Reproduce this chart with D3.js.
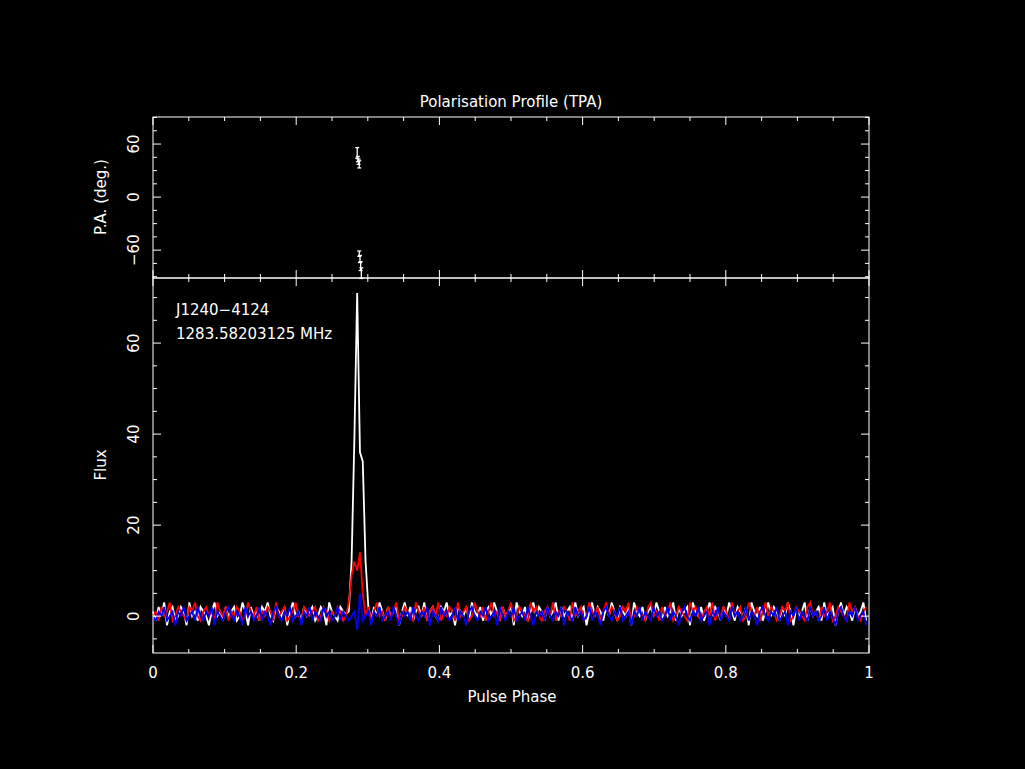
<!DOCTYPE html>
<html><head><meta charset="utf-8">
<script src="https://cdn.jsdelivr.net/npm/d3@7"></script>
<style>body{margin:0;background:#000}svg{display:block}text{font-family:"DejaVu Sans",sans-serif;fill:#fff;font-size:15px}</style>
</head><body><div id="chart"></div>
<script>
// profile bins (256 across the phase 0..1)
const totalI = [
 1,-1,2,0,3,-2,1,2,-1,0,2,1,-2,3,0,1,-1,2,1,0,-2,1,3,0,1,-1,2,0,1,2,
 -1,0,3,1,-2,2,0,1,-1,2,1,3,0,-1,2,1,0,2,-2,1,3,0,1,-1,2,0,1,2,-1,0,
 2,1,-2,3,1,0,-1,2,1,0.5,1,12,39,71,36,34,12,2,-1,2,0,3,1,-1,2,0,1,2,-2,1,
 3,0,2,-1,1,2,0,3,-1,1,2,0,-1,2,1,3,0,1,-2,2,1,0,2,-1,3,1,0,2,-1,1,
 2,0,3,1,-1,2,0,1,2,-2,3,1,0,2,-1,1,3,0,2,1,-1,2,0,1,3,-1,2,0,1,2,
 -1,3,0,1,2,-2,1,3,0,2,1,-1,2,0,3,1,-1,2,1,0,2,-2,3,1,0,2,-1,1,2,0,
 3,1,-1,2,0,1,3,-1,2,0,1,2,-2,3,1,0,2,-1,1,3,0,2,1,-1,2,0,3,1,-1,2,
 1,0,2,-2,3,1,0,2,-1,1,3,0,2,1,-1,2,0,3,1,-2,2,0,1,3,-1,2,0,1,2,-1,
 3,0,1,2,-2,1,3,0,2,1,-1,2,0,1,3,-1
];
const linearL = [
 0,1,-1,2,0,1,3,-1,0,2,1,0,-1,2,1,3,0,-1,1,2,0,1,-1,3,1,0,2,-1,1,0,
 2,1,-1,0,3,1,0,2,-1,1,0,2,1,-1,3,0,1,2,-1,0,1,3,0,-1,2,1,0,1,2,-1,
 0,2,1,-1,1,0,2,1,-1,0,3,9,12,10,14,5,0,2,-1,1,3,0,1,-1,2,0,1,3,-1,0,
 2,1,0,-1,3,1,0,2,-1,1,2,0,3,-1,1,0,2,1,-1,3,0,1,2,-1,0,3,1,0,2,-1,
 1,3,0,1,-1,2,0,1,3,-1,0,2,1,0,-1,3,1,2,0,-1,1,2,0,3,-1,1,0,2,1,-1,
 3,0,1,2,-1,0,3,1,0,2,-1,1,3,0,2,1,-1,0,2,1,3,-1,0,2,1,0,-1,2,3,0,
 1,-1,2,0,1,3,-1,0,2,1,0,-1,3,1,2,0,-1,1,2,0,3,-1,1,0,2,1,-1,3,0,1,
 2,-1,0,3,1,0,2,-1,1,3,0,2,1,-1,0,2,1,3,-1,0,2,1,0,-1,2,3,0,1,-1,2,
 0,1,3,-1,0,2,1,0,-1,3,1,2,0,-1,1,2
];
const circularV = [
 0,-1,1,0,2,-1,0,1,-2,1,0,2,-1,0,1,-1,2,0,-1,1,0,2,-2,1,0,-1,1,2,0,-1,
 1,0,-2,2,0,1,-1,0,2,-1,1,0,-2,1,2,0,-1,1,0,2,-1,0,1,-2,1,0,2,-1,1,0,
 -1,2,0,1,-1,0,2,-1,1,0,-1,0,1,-3,5,-1,0,1,-2,1,0,2,-1,0,1,-1,2,0,-2,1,
 0,1,-1,2,0,-1,1,0,2,-2,1,0,-1,2,0,1,-1,0,2,-1,1,0,-2,1,2,0,-1,1,0,2,
 -1,0,1,-2,2,0,-1,1,0,2,-1,0,1,-1,2,0,-2,1,0,1,-1,2,0,-1,1,0,2,-2,1,0,
 -1,2,0,1,-1,0,2,-1,1,0,-2,1,2,0,-1,1,0,2,-1,0,1,-2,1,0,2,-1,1,0,-1,2,
 0,1,-1,0,2,-1,1,0,-2,1,2,0,-1,1,0,2,-1,0,1,-2,1,0,2,-1,1,0,-1,2,0,1,
 -1,0,2,-1,1,0,-2,1,2,0,-1,1,0,2,-1,0,1,-2,1,0,2,-1,1,0,-1,2,0,1,-1,0,
 2,-1,1,0,-2,1,2,0,-1,1,0,2,-1,0,1,-2
];
// position angle points
const paPhase = [0.2852, 0.2861, 0.2871, 0.2881, 0.2881, 0.2891, 0.2900, 0.2910];
const paDeg   = [50, 43, 40, 37, -64, -70, -78, -86];
const paErr   = [6, 3, 3, 4, 3, 4, 5, 6];
const phaseTicks = [0, 0.2, 0.4, 0.6, 0.8, 1];
const fluxTicks = [0, 20, 40, 60];
const paTicks = [-60, 0, 60];

const W = 1025, H = 769;
const left = 153, right = 869, paTop = 117, split = 278, bottom = 653;
const svg = d3.select('#chart').append('svg').attr('width', W).attr('height', H)
    .style('background', '#000');

const x = d3.scaleLinear().domain([0, 1]).range([left, right]);
const yF = d3.scaleLinear().domain([-8.1, 74.3]).range([bottom, split]);
const yP = d3.scaleLinear().domain([-91.5, 90.6]).range([split, paTop]);

const lineFor = arr => d3.line()
    .x((d, i) => x(i / arr.length))
    .y(d => yF(d))(arr);
[[totalI, '#fff'], [linearL, '#f00'], [circularV, '#00f']].forEach(([arr, c]) => {
    svg.append('path').attr('d', lineFor(arr)).attr('fill', 'none')
        .attr('stroke', c).attr('stroke-width', 1.8);
});

// PA error bars
const pa = svg.append('g').attr('stroke', '#fff').attr('stroke-width', 1.3);
paPhase.forEach((p, i) => {
    const px = x(p);
    pa.append('line').attr('x1', px).attr('x2', px).attr('y1', yP(paDeg[i] - paErr[i])).attr('y2', yP(paDeg[i] + paErr[i]));
    [-1, 1].forEach(s => pa.append('line').attr('x1', px - 2).attr('x2', px + 2)
        .attr('y1', yP(paDeg[i] + s * paErr[i])).attr('y2', yP(paDeg[i] + s * paErr[i])));
});

// frames
const frame = svg.append('g').attr('stroke', '#fff').attr('fill', 'none').attr('stroke-width', 1);
frame.append('rect').attr('x', left).attr('y', paTop).attr('width', right - left).attr('height', split - paTop);
frame.append('rect').attr('x', left).attr('y', split).attr('width', right - left).attr('height', bottom - split);

// inward ticks
function xTicks(yEdge, dir) {
    d3.range(0, 1.0001, 0.05).forEach(t => {
        const major = Math.abs(t * 5 - Math.round(t * 5)) < 1e-6;
        const len = major ? 8 : 4;
        frame.append('line').attr('x1', x(t)).attr('x2', x(t)).attr('y1', yEdge).attr('y2', yEdge + dir * len);
    });
}
xTicks(paTop, 1); xTicks(split, -1); xTicks(split, 1); xTicks(bottom, -1);
function yTicks(scale, lo, hi, step, majorStep) {
    d3.range(lo, hi + 0.001, step).forEach(v => {
        const len = (Math.abs(v % majorStep) < 1e-6) ? 8 : 4;
        frame.append('line').attr('x1', left).attr('x2', left + len).attr('y1', scale(v)).attr('y2', scale(v));
        frame.append('line').attr('x1', right).attr('x2', right - len).attr('y1', scale(v)).attr('y2', scale(v));
    });
}
yTicks(yF, -5, 70, 5, 20);
yTicks(yP, -90, 90, 15, 60);

// labels
svg.selectAll('.xl').data(phaseTicks).enter().append('text')
    .attr('x', d => x(d)).attr('y', 678).attr('text-anchor', 'middle').text(d => d3.format('')(d));
svg.selectAll('.fl').data(fluxTicks).enter().append('text')
    .attr('transform', d => `translate(139,${yF(d)}) rotate(-90)`).attr('text-anchor', 'middle').text(d => d);
svg.selectAll('.pl').data(paTicks).enter().append('text')
    .attr('transform', d => `translate(139,${yP(d)}) rotate(-90)`).attr('text-anchor', 'middle').text(d => d < 0 ? '\u2212' + (-d) : d);
svg.append('text').attr('x', 511).attr('y', 107).attr('text-anchor', 'middle').text('Polarisation Profile (TPA)');
svg.append('text').attr('x', 512).attr('y', 702).attr('text-anchor', 'middle').text('Pulse Phase');
svg.append('text').attr('transform', 'translate(106,465) rotate(-90)').attr('text-anchor', 'middle').text('Flux');
svg.append('text').attr('transform', 'translate(106,197) rotate(-90)').attr('text-anchor', 'middle').text('P.A. (deg.)');
svg.append('text').attr('x', 176).attr('y', 315).text('J1240\u22124124');
svg.append('text').attr('x', 176).attr('y', 339).text('1283.58203125 MHz');
</script></body></html>
